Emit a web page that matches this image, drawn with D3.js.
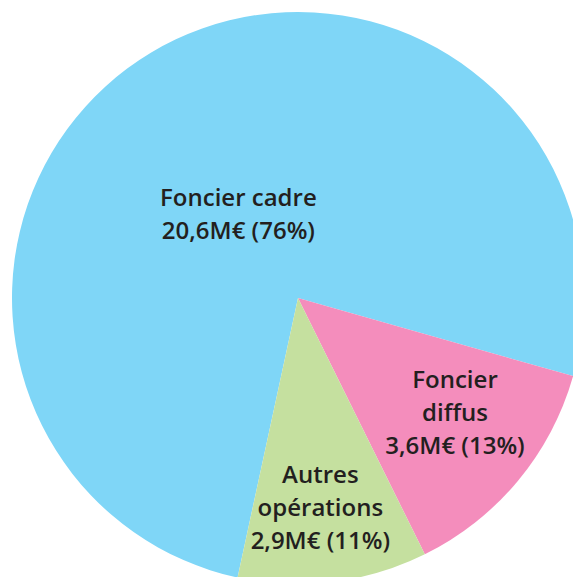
<!DOCTYPE html>
<html>
<head>
<meta charset="utf-8">
<script src="https://cdn.jsdelivr.net/npm/d3@7"></script>
<style>
  body { margin: 0; background: #fff; }
  svg { display: block; }
</style>
</head>
<body>
<svg id="chart"></svg>
<script>
// data
const categories = ["Foncier cadre", "Foncier diffus", "Autres opérations"];
const values = [20.6, 3.6, 2.9];
const shares = [76, 13, 11];
const labelLines = [
  ["Foncier cadre"],
  ["Foncier", "diffus"],
  ["Autres", "opérations"]
];

const colors = ["#7fd6f7", "#f48dbc", "#c5e09f"];

const width = 573, height = 577;
const cx = 298, cy = 298, radius = 286;
const startDeg = -167.8;
// label placement along each slice (fraction of radius, angle nudge in degrees)
const labelR = [0.36, 0.68, 0.74];
const labelNudge = [-4.4, -3.6, 1];
const lineHeight = 33;

const fmt = v => d3.format(".1f")(v).replace(".", ",") + "M€";

const svg = d3.select("#chart")
    .attr("width", width)
    .attr("height", height);

const g = svg.append("g")
    .attr("transform", `translate(${cx}, ${cy})`);

const pie = d3.pie()
    .sort(null)
    .value(d => d.value)
    .startAngle(startDeg * Math.PI / 180)
    .endAngle((startDeg + 360) * Math.PI / 180);

const data = categories.map((c, i) => ({
    name: c,
    value: values[i],
    share: shares[i],
    lines: labelLines[i].concat([`${fmt(values[i])} (${shares[i]}%)`]),
    i
}));

const arcs = pie(data);

const arc = d3.arc().innerRadius(0).outerRadius(radius);

g.selectAll("path")
    .data(arcs)
    .join("path")
    .attr("d", arc)
    .attr("fill", d => colors[d.data.i]);

const labels = g.selectAll("g.label")
    .data(arcs)
    .join("g")
    .attr("class", "label")
    .attr("transform", d => {
        const a = (d.startAngle + d.endAngle) / 2 + labelNudge[d.data.i] * Math.PI / 180;
        const r = radius * labelR[d.data.i];
        return `translate(${r * Math.sin(a)}, ${-r * Math.cos(a)})`;
    });

labels.each(function(d) {
    const lines = d.data.lines;
    const t = d3.select(this).append("text")
        .attr("text-anchor", "middle")
        .attr("fill", "#231f20")
        .style("font-family", "'Open Sans', sans-serif")
        .style("font-weight", 600)
        .style("font-size", "24px");
    lines.forEach((l, k) => {
        t.append("tspan")
            .attr("x", 0)
            .attr("y", (k - (lines.length - 1) / 2) * lineHeight + 8)
            .text(l);
    });
});
</script>
</body>
</html>
